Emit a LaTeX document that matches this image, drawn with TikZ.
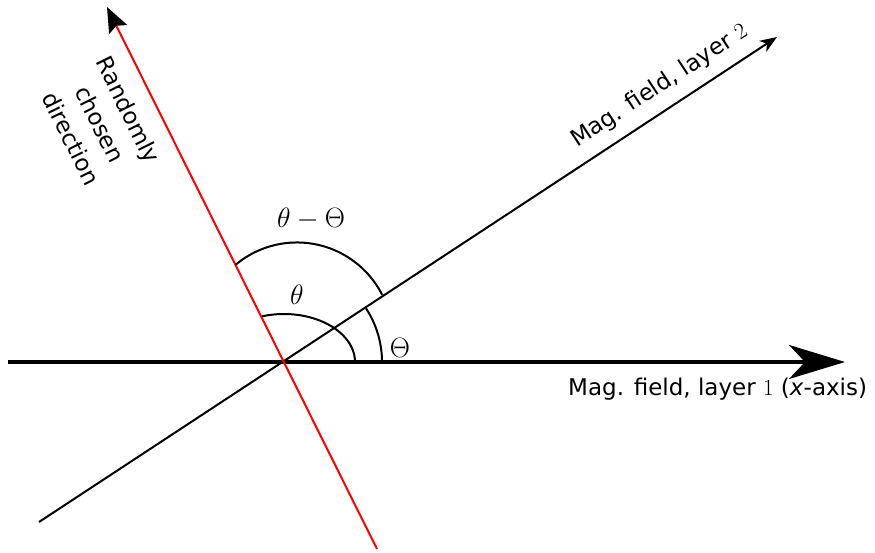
\RequirePackage{fix-cm}
\documentclass[tikz,border=0pt]{standalone}
\usepackage[no-math]{fontspec}
\setmainfont{DejaVu Sans}
\usetikzlibrary{arrows.meta}
\tikzset{
  thinline/.style={line width=2pt, black},
  axisline/.style={line width=3.2pt, black},
  redline/.style={line width=2pt, red},
  anglearc/.style={line width=2pt, black},
  mathlabel/.style={inner sep=0pt, font=\fontsize{28}{32}\selectfont},
  txtlabel/.style={inner sep=0pt, font=\fontsize{23}{28}\selectfont},
}
\begin{document}
\begin{tikzpicture}[x=1pt,y=1pt]
\useasboundingbox (0,0) rectangle (875,552);
\coordinate (O) at (284,190);
\coordinate (xs) at (8,190);
\coordinate (xe) at (845,190);
\coordinate (ls) at (39,30);
\coordinate (le) at (777,515);
\coordinate (rs) at (377,3);
\coordinate (re) at (107,545);
% lines
\draw[axisline, -{Stealth[length=56pt,width=34pt,inset=16pt]}] (xs) -- (xe);
\draw[thinline, -{Stealth[length=17pt,width=13pt,inset=5pt]}] (ls) -- (le);
\draw[redline, -{Stealth[length=25pt,width=20pt,inset=4pt,black]}] (rs) -- (re);
% arcs
\draw[anglearc] (382,190) arc[start angle=0, end angle=33.3, radius=98];
\draw[anglearc] (355,190) arc[start angle=0, end angle=108, x radius=71, y radius=48];
\draw[anglearc] (382.2,257.1) arc[start angle=26.8, end angle=129.9, radius=95.5];
% labels
\node[mathlabel] (tmT) at (311,333) {$\theta-\Theta$};
\node[mathlabel] (tl) at (297,257) {$\theta$};
\node[mathlabel] (TL) at (400,204) {$\Theta$};
\node[txtlabel, anchor=base west] (l1) at (568,156.3) {Mag. field, layer $1$ (\textit{x}-axis)};
\node[txtlabel, anchor=base west, rotate=33.3] (l2) at (577,404) {Mag. field, layer $2$};
\node[txtlabel, align=center, rotate=-63.5, font=\fontsize{23}{32}\selectfont] (rd) at (100,428) {Randomly\\chosen\\direction};
\end{tikzpicture}
\end{document}
